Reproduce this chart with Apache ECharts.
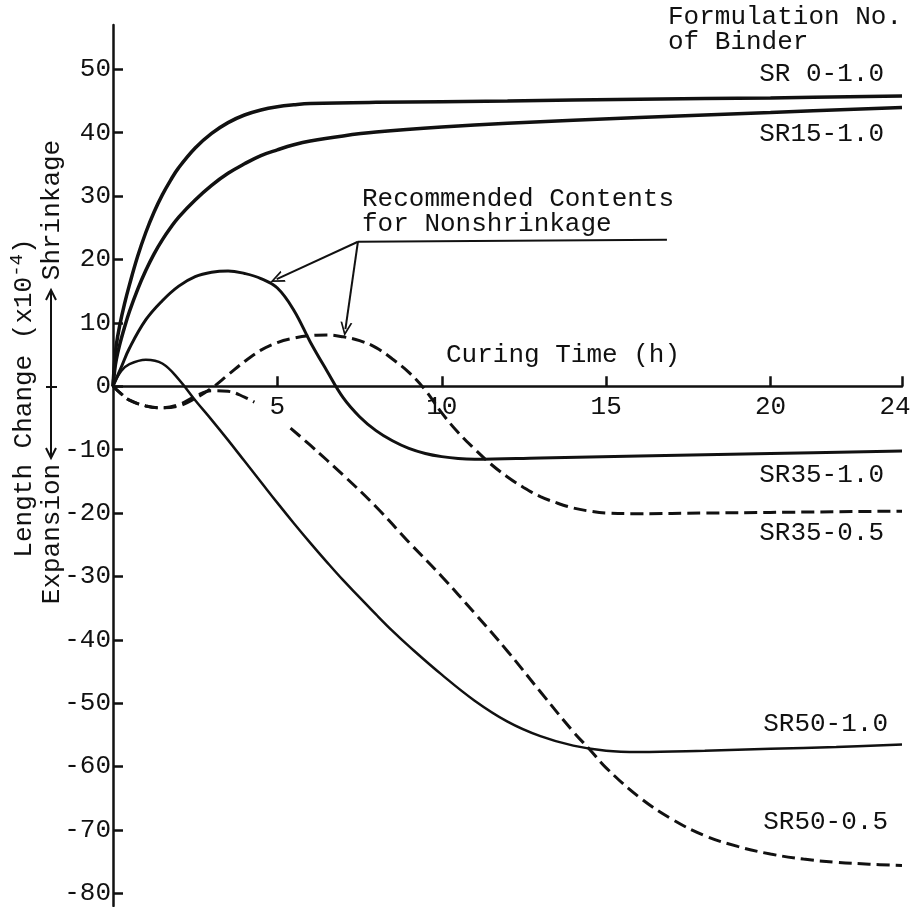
<!DOCTYPE html>
<html>
<head>
<meta charset="utf-8">
<script src="https://cdn.jsdelivr.net/npm/echarts@6/dist/echarts.min.js"></script>
<style>
  html, body { margin: 0; padding: 0; background: #fff; }
  #chart { width: 915px; height: 907px; }
</style>
</head>
<body>
<div id="chart"></div>
<script>
// Length change (x10^-4) against curing time (h), one array per binder formulation.
// Positive = shrinkage, negative = expansion.
const sr0_10 = [[0,0],[0.05,4],[0.1,6.5],[0.2,9.5],[0.35,13],[0.5,16],[0.75,20.5],[1,24.3],[1.25,27.5],[1.5,30.2],[1.75,32.5],[2,34.5],[2.5,37.6],[3,39.9],[3.5,41.6],[4,42.8],[4.5,43.6],[5,44.1],[5.5,44.4],[6,44.6],[8,44.8],[12,45],[16,45.3],[20,45.5],[24,45.8]];
const sr15_10 = [[0,0],[0.05,2.5],[0.1,4.2],[0.2,6.5],[0.35,9.3],[0.5,11.8],[0.75,15.3],[1,18.3],[1.25,20.9],[1.5,23.1],[1.75,25],[2,26.7],[2.5,29.4],[3,31.7],[3.5,33.6],[4,35.1],[4.5,36.4],[5,37.3],[5.5,38.1],[6,38.7],[7,39.5],[8,40.1],[10,40.9],[12,41.5],[16,42.4],[20,43.2],[24,44]];
const sr35_10 = [[0,0],[0.25,3],[0.5,6],[1,10.5],[1.5,13.5],[2,15.8],[2.5,17.3],[3,18],[3.5,18.2],[4,17.8],[4.5,17],[5,15.5],[5.5,12],[6,7],[6.5,2.5],[7,-1.8],[7.5,-4.8],[8,-7],[8.5,-8.6],[9,-9.8],[9.5,-10.6],[10,-11.1],[10.5,-11.4],[11,-11.5],[13,-11.3],[16,-11],[20,-10.6],[24,-10.2]];
const sr35_05 = [[0,0],[0.25,-1.2],[0.5,-2.2],[1,-3.1],[1.5,-3.4],[2,-3.1],[2.5,-1.9],[3,-0.3],[3.5,1.8],[4,3.9],[4.5,5.7],[5,6.9],[5.5,7.6],[6,8],[6.5,8.1],[7,7.8],[7.5,7.2],[8,6.1],[8.5,4.3],[9,2.2],[9.5,-0.6],[10,-4.2],[10.5,-7.3],[11,-9.9],[11.5,-12.3],[12,-14.3],[12.5,-16],[13,-17.4],[13.5,-18.4],[14,-19.2],[14.5,-19.7],[15,-20],[16,-20.1],[18,-20],[20,-19.9],[24,-19.7]];
const sr50_10 = [[0,0],[0.25,2.4],[0.5,3.5],[1,4.2],[1.5,3.6],[2,1.1],[2.5,-2.2],[3,-5.3],[3.5,-8.5],[4,-11.8],[4.5,-15.1],[5,-18.4],[5.5,-21.6],[6,-24.7],[6.5,-27.7],[7,-30.6],[7.5,-33.3],[8,-36],[8.5,-38.6],[9,-41],[10,-45.5],[11,-49.6],[12,-52.9],[13,-55.2],[14,-56.7],[15,-57.5],[16,-57.7],[18,-57.5],[20,-57.2],[22,-56.9],[24,-56.5]];
// the dashed SR50-0.5 line breaks around the "5" tick label
const sr50_05 = [[0,0],[0.25,-1.2],[0.5,-2.2],[1,-3.1],[1.5,-3.4],[2,-2.9],[2.5,-1.6],[3,-0.7],[3.5,-0.8],[4,-1.7],[4.3,-2.5],[4.8,'-'],[5.4,-6.6],[6,-9.3],[7,-14],[8,-19],[9,-24.6],[10,-30],[11,-35.8],[12,-41.8],[13,-48.2],[14,-54.5],[14.5,-57.3],[15,-60.2],[16,-64.8],[17,-68.3],[18,-70.9],[19,-72.6],[20,-73.8],[21,-74.6],[22,-75.1],[23,-75.4],[24,-75.6]];

// Axis ticks
const xTicks = [5, 10, 15, 20, 24];
const yTicks = [-80, -70, -60, -50, -40, -30, -20, -10, 0, 10, 20, 30, 40, 50];
const yMin = -82, yMax = 57;

// Callout: corner under the note, its right end, and the two arrow targets (data units)
const noteCorner = [7.45, 22.8];
const noteEnd = [16.85, 23.1];
const arrowToSolid = [4.98, 16.9];
const arrowToDashed = [7.07, 9.0];

const FONT = '"Liberation Mono", "DejaVu Sans Mono", monospace';
const INK = '#111';
const FS = 26;

const GRID = { left: 113, right: 13, top: 25, bottom: 1 };
const plotHeight = 907 - GRID.top - GRID.bottom;
// the time axis runs along the zero line
const xAxisOffset = -((0 - yMin) / (yMax - yMin)) * plotHeight;

const chevron = 'path://M0,0 L10,20 L7,20 L0,6 L-7,20 L-10,20 Z';

function line(name, data, width, dashed) {
  return {
    name, type: 'line', data,
    showSymbol: false, symbol: 'none',
    smooth: 0.4,
    connectNulls: false, silent: true, animation: false,
    lineStyle: { color: INK, width, type: dashed ? [13, 6] : 'solid', cap: 'butt' },
    z: 3
  };
}

function txt(text, x, y, align, extra) {
  return Object.assign({
    type: 'text', x, y, silent: true, z: 10,
    style: { text, fontSize: FS, fontFamily: FONT, fill: INK, align, verticalAlign: 'middle' }
  }, extra || {});
}

const chart = echarts.init(document.getElementById('chart'), null, { renderer: 'canvas' });

const series = [
  line('SR 0-1.0', sr0_10, 3.5, false),
  line('SR15-1.0', sr15_10, 3.5, false),
  line('SR35-1.0', sr35_10, 3, false),
  line('SR35-0.5', sr35_05, 3, true),
  line('SR50-1.0', sr50_10, 2.5, false),
  line('SR50-0.5', sr50_05, 3, true)
];

series[2].markLine = {
  silent: true, animation: false,
  symbol: ['none', 'none'],
  label: { show: false },
  lineStyle: { color: INK, width: 2, type: 'solid' },
  emphasis: { disabled: true },
  data: [
    [{ coord: noteCorner }, { coord: noteEnd }],
    [{ coord: noteCorner }, { coord: arrowToSolid, symbol: chevron, symbolSize: [12, 14] }],
    [{ coord: noteCorner }, { coord: arrowToDashed, symbol: chevron, symbolSize: [12, 14] }]
  ]
};

chart.setOption({
  animation: false,
  backgroundColor: '#fff',
  grid: Object.assign({ containLabel: false, outerBoundsMode: 'none' }, GRID),
  xAxis: {
    type: 'value', min: 0, max: 24,
    position: 'bottom', offset: xAxisOffset,
    axisLine: { show: true, onZero: false, lineStyle: { color: INK, width: 2.5 } },
    axisTick: { show: true, inside: true, length: 10, customValues: xTicks, lineStyle: { color: INK, width: 2.5 } },
    axisLabel: {
      customValues: xTicks, margin: 8, fontSize: FS, fontFamily: FONT, color: INK,
      formatter: v => v === 24 ? '{r|24}' : String(v),
      rich: { r: { fontSize: FS, fontFamily: FONT, color: INK, padding: [0, 14, 0, 0] } }
    },
    splitLine: { show: false }
  },
  yAxis: {
    type: 'value', min: yMin, max: yMax,
    axisLine: { show: true, onZero: false, lineStyle: { color: INK, width: 2.5 } },
    axisTick: { show: true, inside: true, length: 10, customValues: yTicks, lineStyle: { color: INK, width: 2.5 } },
    axisLabel: { customValues: yTicks, margin: 2, fontSize: FS, fontFamily: FONT, color: INK },
    splitLine: { show: false }
  },
  series,
  graphic: [
    // legend heading and curve names
    txt('Formulation No.', 668, 17, 'left'),
    txt('of Binder', 668, 42, 'left'),
    txt('SR 0-1.0', 884, 74, 'right'),
    txt('SR15-1.0', 884, 134, 'right'),
    txt('SR35-1.0', 884, 475, 'right'),
    txt('SR35-0.5', 884, 533, 'right'),
    txt('SR50-1.0', 888, 724, 'right'),
    txt('SR50-0.5', 888, 822, 'right'),
    // callout text
    txt('Recommended Contents', 362, 199, 'left'),
    txt('for Nonshrinkage', 362, 224, 'left'),
    // x axis title
    txt('Curing Time (h)', 446, 355, 'left'),
    // y axis title, rotated
    txt('Length Change (x10{sup|-4})', 24, 398, 'center', {
      rotation: Math.PI / 2,
      style: {
        text: 'Length Change (x10{sup|-4})', fontSize: FS, fontFamily: FONT, fill: INK,
        align: 'center', verticalAlign: 'middle', lineHeight: 34,
        rich: { sup: { fontSize: 19, fontFamily: FONT, fill: INK, verticalAlign: 'top', lineHeight: 20 } }
      }
    }),
    txt('Shrinkage', 52, 210, 'center', { rotation: Math.PI / 2 }),
    txt('Expansion', 52, 534, 'center', { rotation: Math.PI / 2 }),
    // double arrow between Expansion and Shrinkage
    { type: 'line', silent: true, z: 10, shape: { x1: 51, y1: 290, x2: 51, y2: 458 }, style: { stroke: INK, lineWidth: 2 } },
    { type: 'polyline', silent: true, z: 10, shape: { points: [[46, 300], [51, 290], [56, 300]] }, style: { stroke: INK, lineWidth: 2, fill: null } },
    { type: 'polyline', silent: true, z: 10, shape: { points: [[46, 448], [51, 458], [56, 448]] }, style: { stroke: INK, lineWidth: 2, fill: null } },
    { type: 'line', silent: true, z: 10, shape: { x1: 46, y1: 387, x2: 57, y2: 387 }, style: { stroke: INK, lineWidth: 2 } }
  ]
});
</script>
</body>
</html>
